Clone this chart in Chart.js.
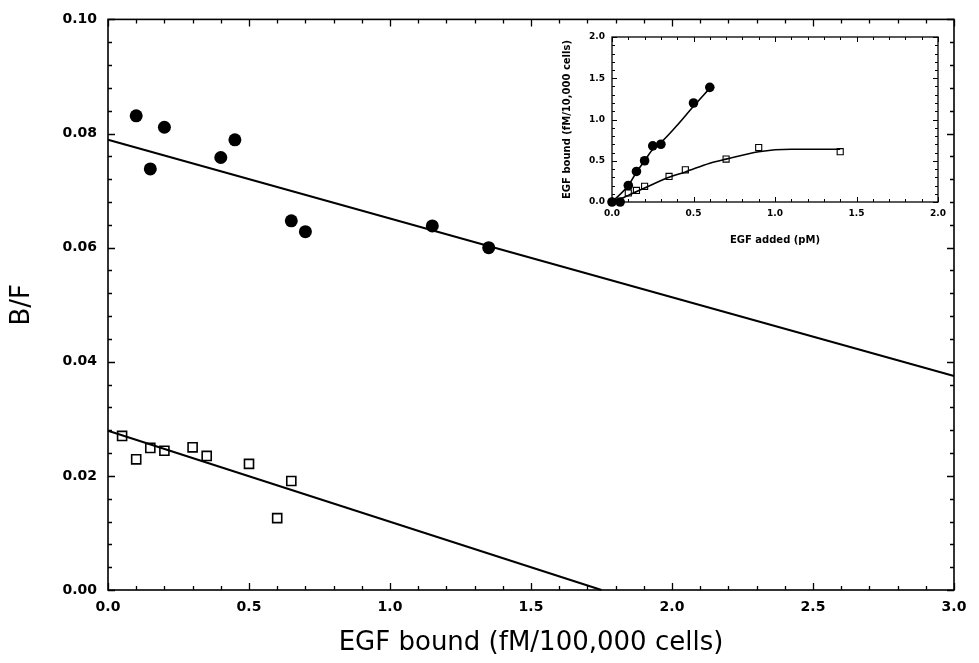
<!DOCTYPE html>
<html>
<head>
<meta charset="utf-8">
<script src="https://cdn.jsdelivr.net/npm/chart.js@4.4.1/dist/chart.umd.min.js"></script>
<style>
  html, body { margin: 0; padding: 0; background: #fff; }
  #wrap { position: relative; width: 979px; height: 663px; }
  canvas { position: absolute; left: 0; top: 0; }
</style>
</head>
<body>
<div id="wrap">
  <canvas id="main" width="979" height="663"></canvas>
  <canvas id="inset" width="979" height="663"></canvas>
</div>
<script>
// ---------- Main chart (Scatchard plot) ----------
const xTicks = [0.0, 0.5, 1.0, 1.5, 2.0, 2.5, 3.0];
const yTicks = [0.00, 0.02, 0.04, 0.06, 0.08, 0.10];

const filledX = [0.10, 0.15, 0.20, 0.40, 0.45, 0.65, 0.70, 1.15, 1.35];
const filledY = [0.0831, 0.0738, 0.0811, 0.0758, 0.0789, 0.0647, 0.0628, 0.0638, 0.0600];
const openX   = [0.05, 0.10, 0.15, 0.20, 0.30, 0.35, 0.50, 0.60, 0.65];
const openY   = [0.0270, 0.0229, 0.0249, 0.0244, 0.0250, 0.0235, 0.0221, 0.0126, 0.0191];

const fitFilledX = [0.0, 3.0];
const fitFilledY = [0.0789, 0.0375];
const fitOpenX   = [0.0, 1.75];
const fitOpenY   = [0.0279, 0.0];

// ---------- Inset chart (binding curve) ----------
const insetXTicks = [0.0, 0.5, 1.0, 1.5, 2.0];
const insetYTicks = [0.0, 0.5, 1.0, 1.5, 2.0];

const insetFilledX = [0.00, 0.05, 0.10, 0.15, 0.20, 0.25, 0.30, 0.50, 0.60];
const insetFilledY = [0.00, 0.00, 0.20, 0.37, 0.50, 0.68, 0.70, 1.20, 1.39];
const insetOpenX   = [0.10, 0.15, 0.20, 0.35, 0.45, 0.70, 0.90, 1.40];
const insetOpenY   = [0.11, 0.14, 0.19, 0.31, 0.39, 0.52, 0.66, 0.61];

const insetFitFilledX = [0.00, 0.10, 0.15, 0.20, 0.25, 0.30, 0.40, 0.50, 0.60];
const insetFitFilledY = [0.00, 0.20, 0.36, 0.50, 0.64, 0.72, 0.93, 1.16, 1.38];
const insetFitOpenX   = [0.00, 0.10, 0.20, 0.35, 0.45, 0.60, 0.70, 0.90, 1.10, 1.40];
const insetFitOpenY   = [0.00, 0.08, 0.17, 0.30, 0.365, 0.47, 0.52, 0.61, 0.64, 0.64];

const pts = (xs, ys) => xs.map((x, i) => ({ x, y: ys[i] }));

// Box with inward ticks on all four sides
const boxTicks = {
  id: 'boxTicks',
  afterDatasetsDraw(chart, args, o) {
    const { ctx, chartArea: a, scales: { x, y } } = chart;
    ctx.save();
    ctx.strokeStyle = '#000';
    ctx.lineWidth = o.lineWidth;
    ctx.strokeRect(a.left, a.top, a.right - a.left, a.bottom - a.top);
    ctx.beginPath();
    const nx = Math.round((x.max - x.min) / o.xMinor);
    for (let i = 0; i <= nx; i++) {
      const v = x.min + i * o.xMinor;
      const px = Math.round(x.getPixelForValue(v)) + 0.5;
      const r = v / o.xMajor;
      const len = Math.abs(r - Math.round(r)) < 1e-6 ? o.major : o.minor;
      ctx.moveTo(px, a.bottom); ctx.lineTo(px, a.bottom - len);
      ctx.moveTo(px, a.top); ctx.lineTo(px, a.top + len);
    }
    const ny = Math.round((y.max - y.min) / o.yMinor);
    for (let i = 0; i <= ny; i++) {
      const v = y.min + i * o.yMinor;
      const py = Math.round(y.getPixelForValue(v)) + 0.5;
      const r = v / o.yMajor;
      const len = Math.abs(r - Math.round(r)) < 1e-6 ? o.major : o.minor;
      ctx.moveTo(a.left, py); ctx.lineTo(a.left + len, py);
      ctx.moveTo(a.right, py); ctx.lineTo(a.right - len, py);
    }
    ctx.lineWidth = o.tickWidth;
    ctx.stroke();
    ctx.restore();
  }
};

const tickFont = { family: 'DejaVu Sans', weight: 'bold', size: 14 };
const titleFont = { family: 'DejaVu Sans', weight: 'normal', size: 26 };

new Chart(document.getElementById('main'), {
  type: 'scatter',
  data: {
    datasets: [
      { data: pts(fitFilledX, fitFilledY), showLine: true, borderColor: '#000', borderWidth: 2, pointRadius: 0, clip: false },
      { data: pts(fitOpenX, fitOpenY), showLine: true, borderColor: '#000', borderWidth: 2, pointRadius: 0, clip: false },
      { data: pts(filledX, filledY), pointStyle: 'circle', pointRadius: 6.5, backgroundColor: '#000', borderColor: '#000', borderWidth: 0, clip: false },
      { data: pts(openX, openY), pointStyle: 'rect', pointRadius: 6.4, backgroundColor: '#fff', borderColor: '#000', borderWidth: 1.6, clip: false }
    ]
  },
  options: {
    responsive: false,
    animation: false,
    events: [],
    layout: { padding: { left: 0, top: 18, right: 25, bottom: 0 } },
    plugins: {
      legend: { display: false },
      tooltip: { enabled: false },
      boxTicks: { lineWidth: 1.6, tickWidth: 1.3, major: 7, minor: 4, xMinor: 0.1, xMajor: 0.5, yMinor: 0.004, yMajor: 0.02 }
    },
    scales: {
      x: {
        type: 'linear', min: 0, max: 3,
        afterBuildTicks: s => { s.ticks = xTicks.map(v => ({ value: v })); },
        afterFit: s => { s.height = 73; },
        grid: { display: false, drawTicks: false },
        border: { display: false },
        ticks: { color: '#000', font: tickFont, padding: 9, maxRotation: 0, autoSkip: false,
                 callback: v => Number(v).toFixed(1) },
        title: { display: true, text: 'EGF bound (fM/100,000 cells)', color: '#000', font: titleFont,
                 padding: { top: 0, bottom: 4 } }
      },
      y: {
        type: 'linear', min: 0, max: 0.1,
        afterBuildTicks: s => { s.ticks = yTicks.map(v => ({ value: v })); },
        afterFit: s => { s.width = 108; },
        grid: { display: false, drawTicks: false },
        border: { display: false },
        ticks: { color: '#000', font: tickFont, padding: 11, autoSkip: false,
                 callback: v => Number(v).toFixed(2) },
        title: { display: true, text: 'B/F', color: '#000', font: titleFont,
                 padding: { top: 7, bottom: 0 } }
      }
    }
  },
  plugins: [boxTicks]
});

const insetTickFont = { family: 'DejaVu Sans', weight: 'bold', size: 9 };
const insetTitleFont = { family: 'DejaVu Sans', weight: 'bold', size: 10 };

new Chart(document.getElementById('inset'), {
  type: 'scatter',
  data: {
    datasets: [
      { data: pts(insetFitFilledX, insetFitFilledY), showLine: true, cubicInterpolationMode: 'monotone', borderColor: '#000', borderWidth: 1.6, pointRadius: 0, clip: false },
      { data: pts(insetFitOpenX, insetFitOpenY), showLine: true, cubicInterpolationMode: 'monotone', borderColor: '#000', borderWidth: 1.6, pointRadius: 0, clip: false },
      { data: pts(insetFilledX, insetFilledY), pointStyle: 'circle', pointRadius: 4.8, backgroundColor: '#000', borderColor: '#000', borderWidth: 0, clip: false },
      { data: pts(insetOpenX, insetOpenY), pointStyle: 'rect', pointRadius: 4.3, backgroundColor: '#fff', borderColor: '#000', borderWidth: 1.1, clip: false }
    ]
  },
  options: {
    responsive: false,
    animation: false,
    events: [],
    layout: { padding: { left: 550, top: 37, right: 41, bottom: 411 } },
    plugins: {
      legend: { display: false },
      tooltip: { enabled: false },
      boxTicks: { lineWidth: 1.3, tickWidth: 1, major: 5, minor: 3, xMinor: 0.1, xMajor: 0.5, yMinor: 0.1, yMajor: 0.5 }
    },
    scales: {
      x: {
        type: 'linear', min: 0, max: 2,
        afterBuildTicks: s => { s.ticks = insetXTicks.map(v => ({ value: v })); },
        afterFit: s => { s.height = 50; },
        grid: { display: false, drawTicks: false },
        border: { display: false },
        ticks: { color: '#000', font: insetTickFont, padding: 6, maxRotation: 0, autoSkip: false,
                 callback: v => Number(v).toFixed(1) },
        title: { display: true, text: 'EGF added (pM)', color: '#000', font: insetTitleFont,
                 padding: { top: 0, bottom: 6 } }
      },
      y: {
        type: 'linear', min: 0, max: 2,
        afterBuildTicks: s => { s.ticks = insetYTicks.map(v => ({ value: v })); },
        afterFit: s => { s.width = 62; },
        grid: { display: false, drawTicks: false },
        border: { display: false },
        ticks: { color: '#000', font: insetTickFont, padding: 7, autoSkip: false,
                 callback: v => Number(v).toFixed(1) },
        title: { display: true, text: 'EGF bound (fM/10,000 cells)', color: '#000', font: insetTitleFont,
                 padding: { top: 11, bottom: 0 } }
      }
    }
  },
  plugins: [boxTicks]
});
</script>
</body>
</html>
